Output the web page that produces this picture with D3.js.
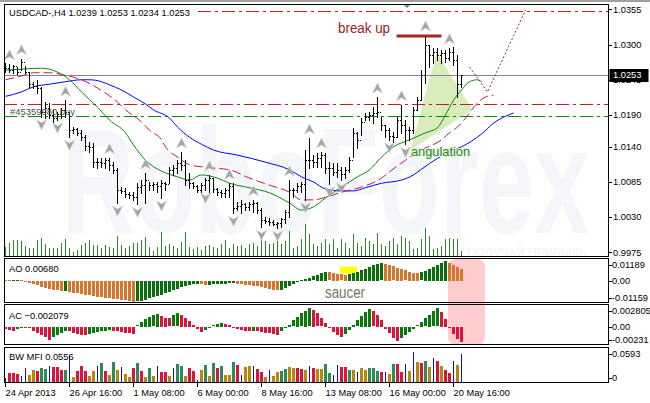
<!DOCTYPE html>
<html><head><meta charset="utf-8">
<script src="https://cdn.jsdelivr.net/npm/d3@7"></script>
<style>
body{margin:0;background:#fff}
svg{display:block}
text{font-family:"Liberation Sans",Arial,sans-serif}
</style>
</head><body>
<svg id="c" width="650" height="403"></svg>
<script>
// ---------------- DATA ----------------
const symbol = "USDCAD-,H4";
const firstOpen = 1.0266;
const highs = [1.0271,1.0270,1.0268,1.0265,1.0278,1.0267,1.0257,1.0242,1.0245,1.0234,
1.0210,1.0209,1.0198,1.0195,1.0201,1.0213,1.0195,1.0171,1.0170,1.0166,
1.0159,1.0148,1.0146,1.0123,1.0123,1.0123,1.0123,1.0116,1.0107,1.0077,
1.0076,1.0069,1.0069,1.0083,1.0088,1.0099,1.0085,1.0085,1.0085,1.0088,
1.0085,1.0108,1.0112,1.0119,1.0132,1.0119,1.0099,1.0085,1.0080,1.0083,
1.0091,1.0096,1.0091,1.0076,1.0072,1.0076,1.0083,1.0083,1.0054,1.0057,
1.0052,1.0054,1.0057,1.0054,1.0044,1.0030,1.0029,1.0025,1.0022,1.0029,
1.0041,1.0088,1.0076,1.0083,1.0085,1.0135,1.0154,1.0127,1.0130,1.0132,
1.0130,1.0116,1.0115,1.0115,1.0108,1.0108,1.0124,1.0170,1.0163,1.0185,
1.0193,1.0194,1.0202,1.0218,1.0187,1.0174,1.0170,1.0163,1.0187,1.0206,
1.0182,1.0171,1.0202,1.0218,1.0260,1.0315,1.0299,1.0295,1.0295,1.0292,
1.0292,1.0295,1.0296,1.0284,1.0253];
const lows = [1.0257,1.0257,1.0256,1.0254,1.0260,1.0256,1.0234,1.0232,1.0224,1.0187,
1.0185,1.0185,1.0179,1.0182,1.0185,1.0187,1.0155,1.0162,1.0159,1.0151,
1.0135,1.0132,1.0108,1.0107,1.0108,1.0107,1.0104,1.0099,1.0052,1.0068,
1.0061,1.0060,1.0057,1.0050,1.0068,1.0052,1.0072,1.0072,1.0069,1.0060,
1.0072,1.0083,1.0096,1.0099,1.0104,1.0080,1.0076,1.0076,1.0069,1.0069,
1.0072,1.0069,1.0069,1.0065,1.0061,1.0061,1.0061,1.0036,1.0041,1.0036,
1.0041,1.0041,1.0038,1.0036,1.0014,1.0021,1.0018,1.0018,1.0013,1.0014,
1.0021,1.0030,1.0061,1.0069,1.0069,1.0057,1.0107,1.0108,1.0108,1.0108,
1.0099,1.0082,1.0096,1.0093,1.0088,1.0091,1.0101,1.0124,1.0138,1.0159,
1.0182,1.0182,1.0177,1.0187,1.0166,1.0155,1.0151,1.0148,1.0155,1.0162,
1.0144,1.0151,1.0162,1.0198,1.0213,1.0240,1.0265,1.0271,1.0276,1.0271,
1.0273,1.0276,1.0268,1.0218,1.0234];
const closes = [1.0263,1.0260,1.0267,1.0257,1.0273,1.0257,1.0238,1.0235,1.0232,1.0195,
1.0201,1.0190,1.0185,1.0191,1.0198,1.0195,1.0166,1.0168,1.0162,1.0155,
1.0141,1.0140,1.0116,1.0116,1.0115,1.0119,1.0112,1.0104,1.0072,1.0071,
1.0066,1.0065,1.0061,1.0077,1.0080,1.0088,1.0080,1.0082,1.0079,1.0083,
1.0082,1.0104,1.0107,1.0115,1.0112,1.0088,1.0083,1.0079,1.0072,1.0080,
1.0088,1.0091,1.0074,1.0069,1.0068,1.0072,1.0079,1.0044,1.0047,1.0050,
1.0046,1.0050,1.0052,1.0041,1.0025,1.0024,1.0022,1.0019,1.0021,1.0027,
1.0038,1.0072,1.0072,1.0079,1.0082,1.0119,1.0119,1.0116,1.0123,1.0127,
1.0107,1.0107,1.0101,1.0104,1.0097,1.0104,1.0119,1.0162,1.0151,1.0179,
1.0187,1.0190,1.0193,1.0195,1.0174,1.0166,1.0157,1.0155,1.0182,1.0174,
1.0166,1.0166,1.0198,1.0213,1.0252,1.0299,1.0284,1.0289,1.0284,1.0287,
1.0279,1.0289,1.0276,1.0239,1.0253];
const volumes = [900,1300,1600,1600,1500,1000,800,800,1600,1800,
1200,800,800,800,1300,1700,800,400,600,1100,
1300,1600,1100,1100,800,1100,900,800,2000,1100,
800,1000,1300,1300,1600,1900,900,500,900,2400,
1000,1200,1000,800,1400,2400,900,700,900,600,
1000,1100,900,800,1200,1600,800,1200,1000,1100,
800,1200,1300,1000,1700,1500,1200,1300,2200,1200,
1500,2500,800,1000,1700,3200,2200,1200,1000,1300,
1700,1200,1700,800,1700,1300,800,2200,1300,1000,
1800,1500,1200,2300,1200,1000,1500,1800,1200,2000,
1800,1500,700,800,1700,2800,2000,700,800,1000,
1700,1800,1700,1700,500];
const ao = [0.0005,0.0003,0.0004,0.0005,0.0002,
-0.0005,-0.0011,-0.0017,-0.0024,-0.0032,-0.0040,-0.0045,-0.0051,-0.0054,-0.0058,
-0.0056,
-0.0061,-0.0066,-0.0071,-0.0075,-0.0079,-0.0083,-0.0087,-0.0090,-0.0093,-0.0096,-0.0099,-0.0102,-0.0105,-0.0108,-0.0111,-0.0115,-0.0119,
-0.0117,-0.0112,-0.0106,-0.0100,-0.0094,-0.0086,-0.0078,-0.0070,-0.0061,-0.0052,-0.0043,-0.0035,-0.0029,
-0.0024,-0.0020,-0.0017,
-0.0020,-0.0024,
-0.0022,-0.0020,-0.0018,-0.0017,-0.0015,-0.0014,-0.0013,
-0.0015,-0.0018,-0.0021,-0.0024,-0.0027,-0.0031,-0.0035,-0.0039,-0.0044,-0.0049,-0.0054,
-0.0050,-0.0041,-0.0030,-0.0019,-0.0008,
0.0002,0.0010,0.0018,0.0025,0.0033,0.0043,0.0052,
0.0048,0.0044,0.0040,0.0037,0.0035,
0.0039,0.0045,0.0052,
0.0061,0.0070,0.0080,0.0089,0.0095,0.0099,
0.0095,0.0089,0.0082,0.0075,0.0067,0.0059,0.0052,0.0047,0.0044,
0.0048,0.0057,0.0068,0.0080,0.0092,0.0104,0.0113,
0.0104,0.0093,0.0081,0.0068];
const ac = [-0.0003,-0.0004,-0.0005,-0.0003,-0.0002,-0.0001,-0.0002,-0.0005,-0.0008,-0.0011,-0.0014,-0.0018,
-0.0014,-0.0011,-0.0008,-0.0005,
-0.0006,-0.0008,-0.0010,-0.0011,-0.0012,
-0.0010,-0.0008,-0.0007,-0.0006,-0.0005,-0.0004,
-0.0005,-0.0006,-0.0007,-0.0008,-0.0009,-0.0010,
0.0002,0.0007,0.0011,0.0014,0.0016,0.0018,
0.0015,0.0013,0.0012,
0.0016,0.0019,
0.0017,0.0013,0.0008,0.0003,
-0.0003,-0.0007,
-0.0004,-0.0001,0.0002,0.0004,0.0005,
0.0004,0.0003,
-0.0001,-0.0003,-0.0004,-0.0005,-0.0006,
-0.0005,
-0.0006,-0.0007,-0.0008,-0.0009,-0.0010,-0.0011,
-0.0006,-0.0002,0.0003,0.0009,0.0014,0.0019,0.0023,0.0026,
0.0024,0.0019,0.0012,0.0005,-0.0002,-0.0007,-0.0011,-0.0014,
-0.0010,-0.0004,0.0003,0.0009,0.0015,0.0021,0.0025,
0.0022,0.0017,0.0010,
-0.0003,-0.0009,-0.0015,-0.0020,
-0.0015,-0.0011,-0.0007,-0.0003,0.0002,0.0007,0.0012,0.0017,0.0022,0.0026,
0.0021,0.0011,
-0.0002,-0.0010,-0.0017,-0.002079];
const mfi = [.008,.018,.018,.016,.011,.027,.013,.024,.021,.027,
.026,.031,.030,.030,.024,.023,.053,.010,.022,.032,
.021,.012,.022,.031,.037,.022,.014,.040,.023,.030,
.015,.010,.027,.038,.022,.010,.027,.012,.031,.020,
.019,.012,.027,.035,.031,.012,.027,.021,.004,.023,
.033,.012,.038,.027,.032,.013,.013,.040,.033,.013,
.030,.032,.032,.026,.019,.010,.023,.012,.019,.022,
.026,.029,.027,.027,
.025,.024,.031,.028,.025,.025,.035,.018,.014,.033,
.029,.029,.024,.024,.020,.028,.024,.028,.027,.022,
.020,.020,.015,.036,.036,.019,.036,.022,
.0593,.040,.038,.041,.030,.047,.041,.031,.023,.017,.041,.033,.0556];
// g = green (up/up), b = fade, n = fake, p = squat
const mfiType = ("n,p,p,p,n,n,b,b,p,g,g,n,p,p,p,g,n,b,p,p,p,b,b,n,g,p,b,g,b,n,"+
"b,b,p,g,p,b,g,b,n,p,p,b,n,g,g,b,p,p,n,b,g,b,g,p,g,b,b,g,p,n,"+
"b,b,n,p,p,b,n,b,b,g,g,b,b,p,"+
"p,b,n,p,b,b,g,g,n,n,p,p,g,b,n,b,b,g,g,g,p,n,b,g,p,p,n,b,"+
"n,b,p,g,b,n,p,b,p,p,n,b,n").split(",");

// Alligator lines: [bar index, price]
const jaw = [[0,1.0219],[4,1.0226],[7,1.0234],[11,1.0238],[15,1.0242],[19,1.0245],[21,1.0245],[24,1.0242],[26,1.0237],[29,1.0229],[32,1.0218],[35,1.0207],[37,1.0198],[41,1.0185],[43,1.0171],[46,1.0155],[49,1.0144],[52,1.0135],[58,1.0127],[65,1.0116],[71,1.0104],[74,1.0093],[77,1.0085],[80,1.0074],[84,1.0071],[87,1.0071],[90,1.0076],[94,1.0083],[99,1.0088],[102,1.0096],[104,1.0105],[108,1.0122],[111,1.0132],[114,1.0140],[119,1.0160],[122,1.0177],[127,1.0193]];
const teeth = [[0,1.0245],[4,1.0251],[7,1.0256],[11,1.0256],[15,1.0252],[19,1.0245],[23,1.0232],[28,1.0210],[30,1.0198],[34,1.0179],[36,1.0166],[39,1.0151],[40,1.0140],[43,1.0124],[46,1.0112],[50,1.0108],[56,1.0104],[61,1.0091],[66,1.0080],[71,1.0069],[74,1.0057],[77,1.0057],[80,1.0061],[84,1.0069],[89,1.0077],[94,1.0091],[96,1.0101],[100,1.0119],[104,1.0135],[109,1.0151],[111,1.0162],[113,1.0171],[116,1.0193],[118,1.0209],[120,1.0218],[122,1.0221]];
const lips = [[0,1.0260],[5,1.0262],[9,1.0263],[13,1.0257],[16,1.0245],[19,1.0226],[23,1.0202],[26,1.0182],[30,1.0162],[32,1.0143],[35,1.0119],[39,1.0102],[43,1.0093],[46,1.0088],[49,1.0096],[53,1.0091],[56,1.0083],[61,1.0076],[66,1.0068],[71,1.0052],[74,1.0041],[77,1.0046],[80,1.0060],[84,1.0077],[88,1.0093],[91,1.0104],[94,1.0124],[97,1.0140],[101,1.0151],[105,1.0162],[108,1.0170],[110,1.0190],[112,1.0213],[114,1.0229],[116,1.0242],[118,1.0245],[119,1.0242]];
const projection = [[116,1.0265],[120.5,1.0226],[130,1.0354]];
const angulationZone = [[101.25,1.0135],[107.75,1.0288],[116.75,1.0198]];

const fractalUp = [1,4,15,26,35,44,51,56,62,71,76,79,93,99,105,111];
const fractalDown = [9,13,16,28,33,39,50,57,64,68,75,81,84,96,100];

const levelsRed = [1.0352, 1.0207];
const levelsGreen = [1.0188];
const breakUp = {price:1.0315, from:97.75, to:109};
const priceTicks = [1.0355,1.0300,1.0245,1.0190,1.0140,1.0085,1.0030,0.9975];
const timeLabels = ["24 Apr 2013","26 Apr 16:00","1 May 08:00","6 May 00:00","8 May 16:00","13 May 08:00","16 May 00:00","20 May 16:00"];
const timeIdx = [0,16,32,48,64,80,96,112];
const aoTicks = [0.01189,0.00,-0.01159];
const acTicks = [0.002805,0.00,-0.00231];
const mfiTicks = [0.0593,0];
const aoTickLabels = ["0.01189","0.00","-0.01159"];
const acTickLabels = ["0.002805","0.00","-0.00231"];
const mfiTickLabels = ["0.0593","0"];

// ---------------- CHART ----------------
const svg = d3.select("#c");
const N = closes.length;
const opens = closes.map((c,i)=> i===0 ? firstOpen : closes[i-1]);
const px = v => Math.round(v) + 0.5;

const x = d3.scaleLinear().domain([0, 114]).range([5.5, 461.5]);
const yP = d3.scaleLinear().domain([0.99691, 1.03636]).range([256, 4]);
const yVol = d3.scaleLinear().domain([0, 3300]).range([256, 223]);
const yAO = d3.scaleLinear().domain([-0.01159, 0.01189]).range([301, 260]);
const yAC = d3.scaleLinear().domain([-0.00231, 0.002805]).range([343, 307]);
const yMFI = d3.scaleLinear().domain([0, 0.0593]).range([382, 352]);

const FS = "9.3px";
const panels = {main:[4.5,256.5], ao:[258.5,302.5], ac:[304.5,344.5], mfi:[347.5,382.5]};

const defs = svg.append("defs");
defs.append("clipPath").attr("id","mainClip").append("rect").attr("x",5).attr("y",5).attr("width",603).attr("height",251);

// top gray band
svg.append("rect").attr("x",0).attr("y",0).attr("width",650).attr("height",2).attr("fill","#a0a0a0");

const main = svg.append("g").attr("clip-path","url(#mainClip)");

// watermark
main.append("text").attr("x",62).attr("y",233).attr("font-size",150).attr("font-weight","bold")
  .attr("fill","#f4f6f9").attr("textLength",528).attr("lengthAdjust","spacingAndGlyphs").text("RoboForex");
main.append("text").attr("x",467).attr("y",257).attr("font-size",12)
  .attr("fill","#f1f2f5").attr("textLength",120).attr("lengthAdjust","spacingAndGlyphs").text("ПОЛУЧАЙ ПРИБЫЛЬ");

// angulation zone
const lineP = d3.line().x(d=>x(d[0])).y(d=>yP(d[1]));
main.append("path").attr("d", lineP(angulationZone)+"Z").attr("fill","#d9ecbb");

// volumes
main.append("g").selectAll("line").data(volumes).join("line")
  .attr("x1",(d,i)=>x(i)).attr("x2",(d,i)=>x(i))
  .attr("y1",256).attr("y2",d=>yVol(d))
  .attr("stroke","#2a8a2a").attr("stroke-width",1);

// level lines
const dashDot = "13,4,3,4";
levelsRed.forEach((p,k)=>{
  main.append("line").attr("x1", k===0?198:4).attr("x2",609).attr("y1",px(yP(p))).attr("y2",px(yP(p)))
    .attr("stroke","#c02020").attr("stroke-dasharray",dashDot);
});
levelsGreen.forEach(p=>{
  main.append("line").attr("x1",4).attr("x2",609).attr("y1",px(yP(p))).attr("y2",px(yP(p)))
    .attr("stroke","#0a8a0a").attr("stroke-dasharray",dashDot);
});
const lastC = closes[N-1];
main.append("line").attr("x1",4).attr("x2",609).attr("y1",px(yP(lastC))).attr("y2",px(yP(lastC)))
  .attr("stroke","#7a8a9a");

// alligator
const curveLine = d3.line().x(d=>x(d[0])).y(d=>yP(d[1])).curve(d3.curveMonotoneX);
main.append("path").attr("d",curveLine(jaw)).attr("fill","none").attr("stroke","#0000ff").attr("stroke-width",1);
main.append("path").attr("d",curveLine(teeth)).attr("fill","none").attr("stroke","#cc1a40").attr("stroke-width",1).attr("stroke-dasharray","9,4");
main.append("path").attr("d",curveLine(lips)).attr("fill","none").attr("stroke","#0a8a0a").attr("stroke-width",1);
main.append("path").attr("d",lineP(projection)).attr("fill","none").attr("stroke","#8b2c2c").attr("stroke-dasharray","2,2");

// OHLC bars
main.append("g").selectAll("path").data(closes).join("path")
  .attr("d",(c,i)=>{
    const xx = x(i), xi = Math.floor(xx);
    const yo = px(yP(opens[i])), yc = px(yP(c));
    return `M${xx},${Math.round(yP(highs[i]))}V${Math.round(yP(lows[i]))+1}M${xi-1},${yo}H${xi}M${xi+1},${yc}H${xi+2}`;
  })
  .attr("stroke","#000").attr("stroke-width",1).attr("fill","none");

// fractals
const upG = "M0,-5L5,5L0,2L-5,5Z", dnG = "M0,5L5,-5L0,-2L-5,-5Z";
main.append("g").selectAll("path").data(fractalUp).join("path")
  .attr("d",upG).attr("transform",i=>`translate(${x(i)},${yP(highs[i])-9})`)
  .attr("fill","#a4a4a4").attr("stroke","#d0d0d0").attr("stroke-width",0.6);
main.append("g").selectAll("path").data(fractalDown).join("path")
  .attr("d",dnG).attr("transform",i=>`translate(${x(i)},${yP(lows[i])+8})`)
  .attr("fill","#a4a4a4").attr("stroke","#d0d0d0").attr("stroke-width",0.6);

// break up
main.append("line").attr("x1",x(breakUp.from)).attr("x2",x(breakUp.to))
  .attr("y1",yP(breakUp.price)+1).attr("y2",yP(breakUp.price)+1)
  .attr("stroke","#a82424").attr("stroke-width",3);
main.append("text").attr("x",338).attr("y",33).attr("font-size",14).attr("fill","#9b1c1c")
  .attr("textLength",52).attr("lengthAdjust","spacingAndGlyphs").text("break up");
main.append("text").attr("x",411).attr("y",156).attr("font-size",13).attr("fill","#2f8a2f")
  .attr("stroke","#e6f2dc").attr("stroke-width",2).attr("paint-order","stroke")
  .attr("textLength",59).attr("lengthAdjust","spacingAndGlyphs").text("angulation");
main.append("text").attr("x",10).attr("y",115).attr("font-size",9.6).attr("fill","#505050")
  .attr("textLength",65).attr("lengthAdjust","spacingAndGlyphs").text("#45359980 buy");

// header
svg.append("rect").attr("x",5).attr("y",6).attr("width",192).attr("height",12).attr("fill","#fff");
const f4 = d3.format(".4f");
svg.append("text").attr("x",9).attr("y",16).attr("font-size",FS).attr("fill","#000")
  .text(`${symbol}  ${f4(opens[N-1])} ${f4(highs[N-1])} ${f4(lows[N-1])} ${f4(closes[N-1])}`);

// shift marker
svg.append("path").attr("d","M403,4L411,4L407,8Z").attr("fill","#808080");

// ---- AO ----
const ind = svg.append("g");
ind.append("rect").attr("x",448).attr("y",259).attr("width",37).attr("height",86).attr("rx",8).attr("fill","#ffcdcd");
ind.append("rect").attr("x",340).attr("y",266.5).attr("width",17).attr("height",7).attr("fill","#ffff00");

function histo(data, yS, colorFn, wFn){
  ind.append("g").selectAll("rect").data(data).join("rect")
    .attr("x",(d,i)=> Math.floor(x(i)) - (wFn(d,i)===1?0:1))
    .attr("width",(d,i)=>wFn(d,i))
    .attr("y",d=> Math.round(Math.min(yS(0),yS(d))))
    .attr("height",d=> Math.max(1, Math.round(Math.abs(yS(d)-yS(0)))))
    .attr("fill",colorFn);
}
histo(ao, yAO, (d,i)=> (i>0 ? d>ao[i-1] : d>0.0007) ? "#0a6e0a" : "#d5762e", ()=>3);
histo(ac, yAC, (d,i)=> (i>0 ? d>ac[i-1] : false) ? "#0a780a" : "#dc143c", ()=>3);
const mfiColors = {g:"#2e8b57", b:"#b8860b", n:"#14148c", p:"#dc143c"};
histo(mfi, yMFI, (d,i)=> mfiColors[mfiType[i]], (d,i)=> mfiType[i]==="n"?1:3);

// saucer text
svg.append("text").attr("x",325).attr("y",298).attr("font-size",16).attr("fill","#6f7a66")
  .attr("textLength",40).attr("lengthAdjust","spacingAndGlyphs").text("saucer");

// indicator labels
const f5 = d3.format(".5f"), f6 = d3.format(".6f");
svg.append("text").attr("x",9).attr("y",271.5).attr("font-size",FS).text("AO "+f5(ao[N-1]));
svg.append("text").attr("x",9).attr("y",319).attr("font-size",FS).text("AC "+f6(ac[N-1]));
svg.append("text").attr("x",9).attr("y",360).attr("font-size",FS).text("BW MFI "+f4(mfi[N-1]));

// frames
Object.values(panels).forEach(([t,b])=>{
  svg.append("rect").attr("x",4.5).attr("y",t).attr("width",604).attr("height",b-t)
    .attr("fill","none").attr("stroke","#000").attr("stroke-width",1);
});

// right axis price
const ax = svg.append("g").attr("font-size",FS);
priceTicks.forEach(v=>{
  const yy = yP(v);
  ax.append("line").attr("x1",609).attr("x2",612).attr("y1",px(yy)).attr("y2",px(yy)).attr("stroke","#000");
  ax.append("text").attr("x",613).attr("y",yy+3.3).text(f4(v));
});
// current price box
const yc = yP(lastC);
ax.append("rect").attr("x",609.5).attr("y",Math.round(yc)-6).attr("width",39).attr("height",13).attr("fill","#000");
ax.append("text").attr("x",613).attr("y",yc+3.6).attr("fill","#fff").text(f4(lastC));

function subAxis(ticks, labels, yS, [t,b]){
  ticks.forEach((v,k)=>{
    const yy = Math.max(t+6, Math.min(b-5, yS(v)));
    ax.append("line").attr("x1",609).attr("x2",612).attr("y1",px(yy)).attr("y2",px(yy)).attr("stroke","#000");
    ax.append("text").attr("x",612).attr("y",yy+3.3).text(labels[k]);
  });
}
subAxis(aoTicks, aoTickLabels, yAO, panels.ao);
subAxis(acTicks, acTickLabels, yAC, panels.ac);
subAxis(mfiTicks, mfiTickLabels, yMFI, panels.mfi);

// time axis
timeIdx.forEach((i,k)=>{
  const xx = Math.floor(x(i))+0.5;
  ax.append("line").attr("x1",xx).attr("x2",xx).attr("y1",383).attr("y2",387).attr("stroke","#000");
  ax.append("text").attr("x",xx).attr("y",395.5).text(timeLabels[k]);
});
</script>
</body></html>
